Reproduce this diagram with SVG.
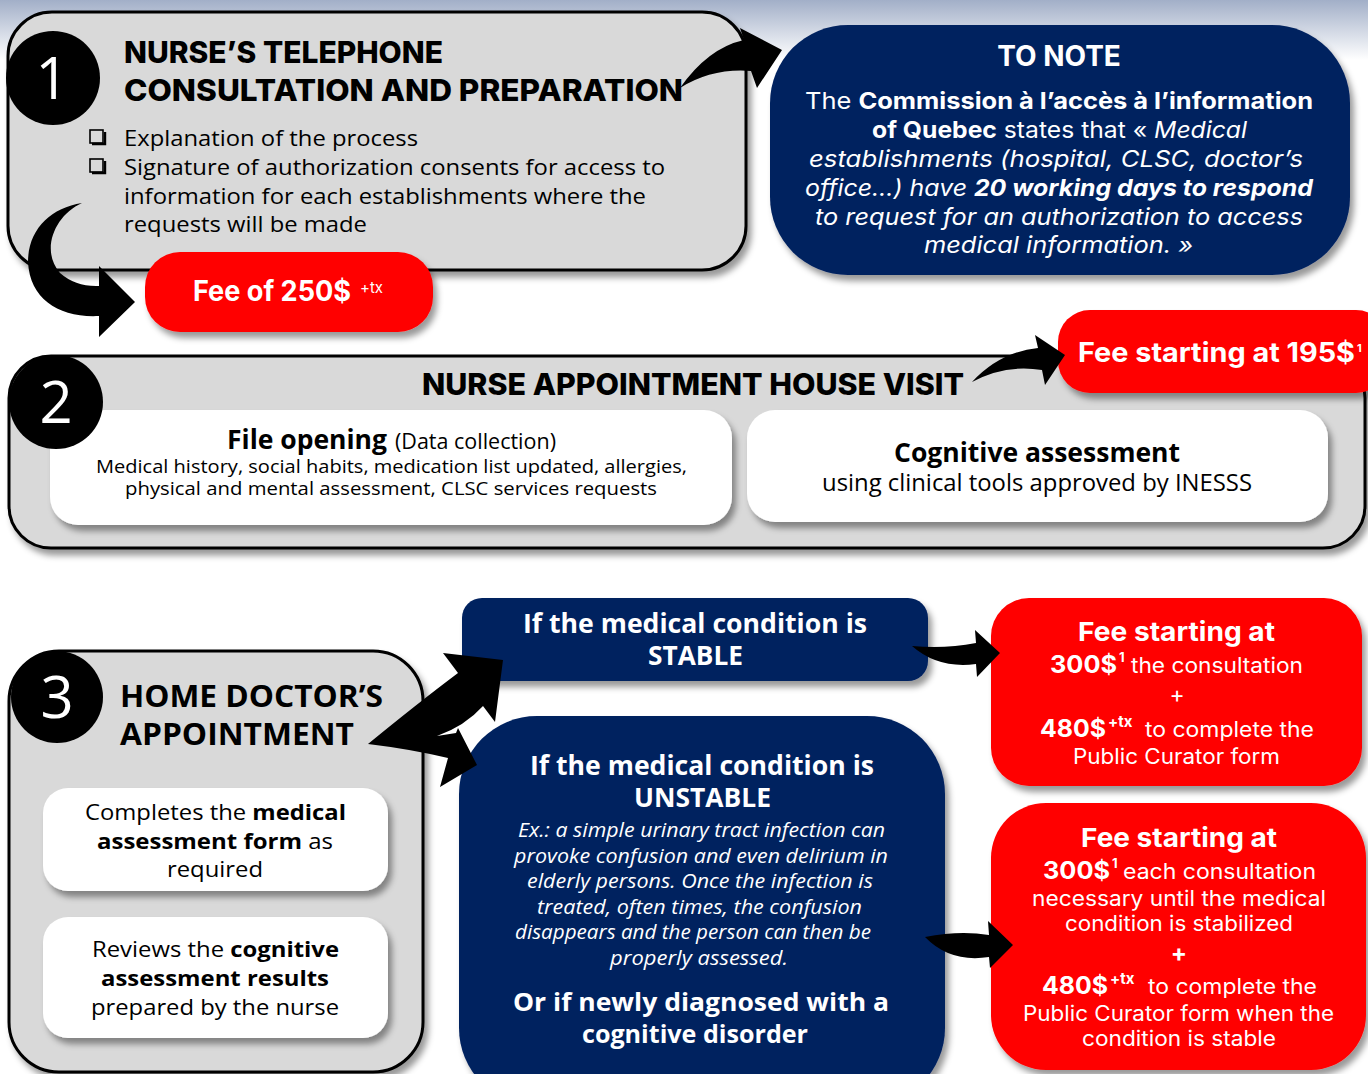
<svg xmlns="http://www.w3.org/2000/svg" width="1368" height="1074" viewBox="0 0 1368 1074">
<defs>
<linearGradient id="topg" x1="0" y1="0" x2="0" y2="1">
<stop offset="0" stop-color="#a2afc8"/>
<stop offset="1" stop-color="#ffffff"/>
</linearGradient>
<filter id="sh" x="-10%" y="-10%" width="125%" height="130%">
<feDropShadow dx="4" dy="6" stdDeviation="3" flood-color="#000" flood-opacity="0.4"/>
</filter>
<style>
.gray{fill:#d9d9d9;stroke:#000;stroke-width:3;filter:url(#sh)}
.navy{fill:#03215f;filter:url(#sh)}
.red{fill:#ff0000;filter:url(#sh)}
.white{fill:#ffffff;filter:url(#sh)}
.num{fill:#fff;font-family:"Open Sans",sans-serif;font-size:58px;text-anchor:middle}
.ttl{font-family:Inter,"Noto Sans",sans-serif;font-weight:800;fill:#000}
.os{font-family:"Open Sans",sans-serif;fill:#000}
.pw{font-family:Inter,"Noto Sans",sans-serif;fill:#fff}
.osw{font-family:"Open Sans",sans-serif;fill:#fff}
.c{text-anchor:middle}
.b{font-weight:700}
.i{font-style:italic}
.arrow{fill:#000}
</style>
</defs>
<rect x="0" y="0" width="1368" height="1074" fill="#fff"/>
<rect x="0" y="0" width="1368" height="60" fill="url(#topg)"/>

<g id="step1">
<rect class="gray" x="8" y="12" width="738" height="258" rx="44"/>
<circle cx="53" cy="78" r="47" fill="#000"/>
<text class="num" x="52" y="99">1</text>
<text class="ttl" x="124" y="63" font-size="30" textLength="319" lengthAdjust="spacingAndGlyphs">NURSE’S TELEPHONE</text>
<text class="ttl" x="124" y="101" font-size="30" textLength="559" lengthAdjust="spacingAndGlyphs">CONSULTATION AND PREPARATION</text>
<rect x="90" y="130" width="13" height="13" fill="none" stroke="#000" stroke-width="1.6"/>
<path d="M92,144 H105 V132" fill="none" stroke="#000" stroke-width="2.4"/>
<rect x="90" y="159" width="13" height="13" fill="none" stroke="#000" stroke-width="1.6"/>
<path d="M92,173 H105 V161" fill="none" stroke="#000" stroke-width="2.4"/>
<text class="os" x="124" y="146" font-size="22" textLength="294" lengthAdjust="spacingAndGlyphs">Explanation of the process</text>
<text class="os" x="124" y="175" font-size="22" textLength="541" lengthAdjust="spacingAndGlyphs">Signature of authorization consents for access to</text>
<text class="os" x="124" y="204" font-size="22" textLength="522" lengthAdjust="spacingAndGlyphs">information for each establishments where the</text>
<text class="os" x="124" y="232" font-size="22" textLength="243" lengthAdjust="spacingAndGlyphs">requests will be made</text>
</g>

<g id="fee250">
<rect class="red" x="145" y="252" width="288" height="80" rx="35"/>
<text class="pw b" x="193" y="301" font-size="28" textLength="158" lengthAdjust="spacingAndGlyphs">Fee of 250$</text>
<text class="pw" x="360" y="293" font-size="15">+tx</text>
</g>

<g id="note">
<rect class="navy" x="770" y="25" width="580" height="250" rx="78"/>
<text class="pw b c" x="1059" y="66" font-size="28">TO NOTE</text>
<text class="pw" x="805" y="109" font-size="23" textLength="508" lengthAdjust="spacingAndGlyphs">The <tspan class="b">Commission à l’accès à l’information</tspan></text>
<text class="pw" x="872" y="138" font-size="23" textLength="375" lengthAdjust="spacingAndGlyphs"><tspan class="b">of Quebec</tspan> states that « <tspan class="i">Medical</tspan></text>
<text class="pw i" x="809" y="167" font-size="23" textLength="494" lengthAdjust="spacingAndGlyphs">establishments (hospital, CLSC, doctor’s</text>
<text class="pw i" x="805" y="196" font-size="23" textLength="508" lengthAdjust="spacingAndGlyphs">office…) have <tspan class="b">20 working days to respond</tspan></text>
<text class="pw i" x="815" y="225" font-size="23" textLength="488" lengthAdjust="spacingAndGlyphs">to request for an authorization to access</text>
<text class="pw i" x="924" y="253" font-size="23" textLength="269" lengthAdjust="spacingAndGlyphs">medical information. »</text>
</g>

<g id="step2">
<rect class="gray" x="9" y="356" width="1356" height="192" rx="42"/>
<text class="ttl" x="422" y="395" font-size="30" textLength="542" lengthAdjust="spacingAndGlyphs">NURSE APPOINTMENT HOUSE VISIT</text>
</g>

<g id="file-opening">
<rect class="white" x="50" y="410" width="682" height="115" rx="28"/>
<text class="os b" x="227" y="449" font-size="26" textLength="160" lengthAdjust="spacingAndGlyphs">File opening</text>
<text class="os" x="395" y="449" font-size="21" textLength="161" lengthAdjust="spacingAndGlyphs">(Data collection)</text>
<text class="os" x="96" y="473" font-size="18" textLength="591" lengthAdjust="spacingAndGlyphs">Medical history, social habits, medication list updated, allergies,</text>
<text class="os" x="125" y="495" font-size="18" textLength="532" lengthAdjust="spacingAndGlyphs">physical and mental assessment, CLSC services requests</text>
</g>

<g id="step2-badge">
<circle cx="56" cy="402" r="47" fill="#000"/>
<text class="num" x="56" y="423">2</text>
</g>

<g id="cognitive-assessment">
<rect class="white" x="747" y="410" width="581" height="112" rx="28"/>
<text class="os b" x="894" y="462" font-size="26" textLength="286" lengthAdjust="spacingAndGlyphs">Cognitive assessment</text>
<text class="os" x="822" y="491" font-size="23" textLength="430" lengthAdjust="spacingAndGlyphs">using clinical tools approved by INESSS</text>
</g>

<g id="fee195">
<rect class="red" x="1058" y="310" width="330" height="83" rx="32"/>
<text class="pw b" x="1078" y="362" font-size="27" textLength="277" lengthAdjust="spacingAndGlyphs">Fee starting at 195$</text>
<text class="pw b" x="1357" y="352" font-size="11">1</text>
</g>

<g id="step3">
<rect class="gray" x="9" y="651" width="414" height="421" rx="50"/>
<circle cx="57" cy="697" r="46" fill="#000"/>
<text class="num" x="57" y="718">3</text>
<text class="os b" x="120" y="707" font-size="30" textLength="263" lengthAdjust="spacingAndGlyphs">HOME DOCTOR’S</text>
<text class="os b" x="120" y="745" font-size="30" textLength="234" lengthAdjust="spacingAndGlyphs">APPOINTMENT</text>
</g>

<g id="medical-form">
<rect class="white" x="43" y="788" width="345" height="103" rx="25"/>
<text class="os" x="85" y="820" font-size="22" textLength="261" lengthAdjust="spacingAndGlyphs">Completes the <tspan class="b">medical</tspan></text>
<text class="os" x="97" y="849" font-size="22" textLength="236" lengthAdjust="spacingAndGlyphs"><tspan class="b">assessment form</tspan> as</text>
<text class="os" x="167" y="877" font-size="22" textLength="96" lengthAdjust="spacingAndGlyphs">required</text>
</g>

<g id="review-results">
<rect class="white" x="43" y="917" width="345" height="121" rx="25"/>
<text class="os" x="92" y="957" font-size="22" textLength="247" lengthAdjust="spacingAndGlyphs">Reviews the <tspan class="b">cognitive</tspan></text>
<text class="os b" x="101" y="986" font-size="22" textLength="228" lengthAdjust="spacingAndGlyphs">assessment results</text>
<text class="os" x="91" y="1015" font-size="22" textLength="248" lengthAdjust="spacingAndGlyphs">prepared by the nurse</text>
</g>

<g id="stable">
<rect class="navy" x="462" y="598" width="466" height="83" rx="20"/>
<text class="osw b" x="523" y="633" font-size="26" textLength="344" lengthAdjust="spacingAndGlyphs">If the medical condition is</text>
<text class="osw b" x="648" y="665" font-size="26" textLength="95" lengthAdjust="spacingAndGlyphs">STABLE</text>
</g>

<g id="unstable">
<rect class="navy" x="459" y="716" width="486" height="390" rx="78"/>
<text class="osw b" x="530" y="775" font-size="26" textLength="344" lengthAdjust="spacingAndGlyphs">If the medical condition is</text>
<text class="osw b" x="634" y="807" font-size="26" textLength="137" lengthAdjust="spacingAndGlyphs">UNSTABLE</text>
<text class="osw i" x="518" y="837" font-size="20" textLength="367" lengthAdjust="spacingAndGlyphs">Ex.: a simple urinary tract infection can</text>
<text class="osw i" x="514" y="863" font-size="20" textLength="374" lengthAdjust="spacingAndGlyphs">provoke confusion and even delirium in</text>
<text class="osw i" x="527" y="888" font-size="20" textLength="346" lengthAdjust="spacingAndGlyphs">elderly persons. Once the infection is</text>
<text class="osw i" x="537" y="914" font-size="20" textLength="325" lengthAdjust="spacingAndGlyphs">treated, often times, the confusion</text>
<text class="osw i" x="515" y="939" font-size="20" textLength="356" lengthAdjust="spacingAndGlyphs">disappears and the person can then be</text>
<text class="osw i" x="610" y="965" font-size="20" textLength="178" lengthAdjust="spacingAndGlyphs">properly assessed.</text>
<text class="osw b" x="513" y="1011" font-size="25" textLength="376" lengthAdjust="spacingAndGlyphs">Or if newly diagnosed with a</text>
<text class="osw b" x="582" y="1043" font-size="25" textLength="226" lengthAdjust="spacingAndGlyphs">cognitive disorder</text>
</g>

<g id="fee-stable">
<rect class="red" x="991" y="598" width="371" height="188" rx="38"/>
<text class="pw b" x="1078" y="641" font-size="26" textLength="197" lengthAdjust="spacingAndGlyphs">Fee starting at</text>
<text class="pw b" x="1050" y="673" font-size="24" textLength="67" lengthAdjust="spacingAndGlyphs">300$</text>
<text class="pw b" x="1119" y="662" font-size="13">1</text>
<text class="pw" x="1131" y="673" font-size="21" textLength="172" lengthAdjust="spacingAndGlyphs">the consultation</text>
<text class="pw c" x="1177" y="703" font-size="23">+</text>
<text class="pw b" x="1040" y="737" font-size="24" textLength="66" lengthAdjust="spacingAndGlyphs">480$</text>
<text class="pw b" x="1108" y="727" font-size="15">+tx</text>
<text class="pw" x="1145" y="737" font-size="21" textLength="169" lengthAdjust="spacingAndGlyphs">to complete the</text>
<text class="pw" x="1073" y="764" font-size="21" textLength="207" lengthAdjust="spacingAndGlyphs">Public Curator form</text>
</g>

<g id="fee-unstable">
<rect class="red" x="991" y="803" width="375" height="267" rx="55"/>
<text class="pw b" x="1081" y="847" font-size="26" textLength="196" lengthAdjust="spacingAndGlyphs">Fee starting at</text>
<text class="pw b" x="1043" y="879" font-size="24" textLength="67" lengthAdjust="spacingAndGlyphs">300$</text>
<text class="pw b" x="1112" y="868" font-size="13">1</text>
<text class="pw" x="1123" y="879" font-size="21" textLength="193" lengthAdjust="spacingAndGlyphs">each consultation</text>
<text class="pw" x="1032" y="906" font-size="21" textLength="294" lengthAdjust="spacingAndGlyphs">necessary until the medical</text>
<text class="pw" x="1065" y="931" font-size="21" textLength="228" lengthAdjust="spacingAndGlyphs">condition is stabilized</text>
<text class="pw b c" x="1179" y="961" font-size="24">+</text>
<text class="pw b" x="1042" y="994" font-size="24" textLength="66" lengthAdjust="spacingAndGlyphs">480$</text>
<text class="pw b" x="1110" y="984" font-size="15">+tx</text>
<text class="pw" x="1148" y="994" font-size="21" textLength="169" lengthAdjust="spacingAndGlyphs">to complete the</text>
<text class="pw" x="1023" y="1021" font-size="21" textLength="311" lengthAdjust="spacingAndGlyphs">Public Curator form when the</text>
<text class="pw" x="1082" y="1046" font-size="21" textLength="194" lengthAdjust="spacingAndGlyphs">condition is stable</text>
</g>

<g id="connectors">
<path class="arrow" d="M680,88 Q708,48 744,40 L740,28 L782,50 L757,88 L751,71 Q712,68 680,88 Z"/>
<path class="arrow" d="M82,203 C55,215 40,250 60,273 Q76,287 99,286 L99,266 L135,302 L99,337 L99,316 C60,318 30,300 28,262 C28,230 50,208 82,203 Z"/>
<path class="arrow" d="M972,382 Q1000,352 1038,348 L1035,335 L1065,355 L1045,385 L1042,370 Q1005,364 972,382 Z"/>
<path class="arrow" d="M368,744 Q418,703 458,673 L443,653 L503,660 L495,722 L483,706 Q465,726 437,736 L456,733 L458,728 L477,765 L440,787 L448,758 Q410,749 368,744 Z"/>
<path class="arrow" d="M912,646 Q945,649 976,643 L975,630 L1000,653 L977,677 L976,664 Q938,669 912,646 Z"/>
<path class="arrow" d="M925,937 Q960,930 989,935 L988,921 L1013,945 L990,968 L989,957 Q950,963 925,937 Z"/>
</g>
</svg>
